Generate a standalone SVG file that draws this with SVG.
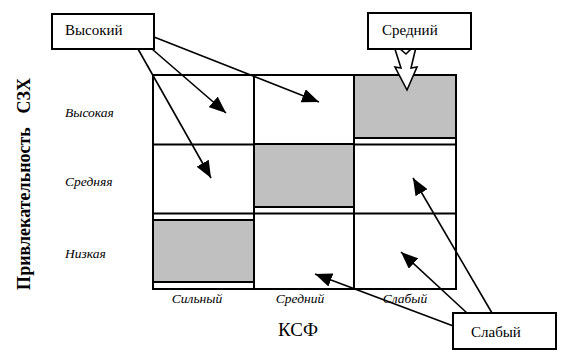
<svg xmlns="http://www.w3.org/2000/svg" width="570" height="363" viewBox="0 0 570 363">
<style>
.ln{stroke:#000;stroke-width:2;fill:none}
.gr{fill:#c0c0c0;stroke:#000;stroke-width:2}
.box{fill:#fff;stroke:#000;stroke-width:2}
.t{font-family:'Liberation Serif','DejaVu Serif',serif;fill:#000}
.it{font-family:'Liberation Serif','DejaVu Serif',serif;font-style:italic;font-size:13.5px;fill:#000}
.con{stroke:#000;stroke-width:1.6;fill:none;marker-end:url(#ah)}
</style>
<defs>
<marker id="ah" markerUnits="userSpaceOnUse" markerWidth="18" markerHeight="14" refX="17" refY="7" orient="auto">
<path d="M0,0 L17,7 L0,14 z" fill="#000"/>
</marker>
</defs>
<rect width="570" height="363" fill="#fff"/>
<g id="grid">
<rect class="ln" x="153" y="75" width="303" height="214"/>
<line class="ln" x1="254" y1="75" x2="254" y2="289"/>
<line class="ln" x1="354" y1="75" x2="354" y2="289"/>
<line class="ln" x1="153" y1="144.5" x2="456" y2="144.5"/>
<line class="ln" x1="153" y1="213.5" x2="456" y2="213.5"/>
<rect class="gr" x="354" y="75" width="102" height="63"/>
<rect class="gr" x="254" y="144" width="100" height="63"/>
<rect class="gr" x="153" y="220" width="101" height="62"/>
</g>
<g id="axis-labels">
<text class="t" font-weight="bold" font-size="18" text-anchor="middle" style="white-space:pre" transform="translate(30,184) rotate(-90)">Привлекательность   СЗХ</text>
<text class="it" x="65" y="117">Высокая</text>
<text class="it" x="65" y="186">Средняя</text>
<text class="it" x="65" y="258">Низкая</text>
<text class="it" x="197" y="303" text-anchor="middle">Сильный</text>
<text class="it" x="300" y="303" text-anchor="middle">Средний</text>
<text class="it" x="405" y="303" text-anchor="middle">Слабый</text>
<text class="t" x="298" y="336" font-size="19" text-anchor="middle">КСФ</text>
</g>
<g id="connectors">
<line class="con" x1="152" y1="49" x2="226" y2="113"/>
<line class="con" x1="138" y1="49" x2="211" y2="178"/>
<line class="con" x1="154" y1="37" x2="319" y2="102"/>
<line class="con" x1="492" y1="313" x2="413" y2="178"/>
<line class="con" x1="467" y1="313" x2="401" y2="252"/>
<line class="con" x1="456" y1="327" x2="315" y2="274"/>
<polygon points="393,43 406,54 417,43 411,68 417,67 407,90 395,67 401,68" fill="#fff" stroke="#000" stroke-width="1.6" stroke-linejoin="miter"/>
</g>
<g id="node-high">
<rect class="box" x="52" y="14" width="102" height="35"/>
<text class="t" x="65" y="35" font-size="15">Высокий</text>
</g>
<g id="node-mid">
<rect class="box" x="368" y="13" width="103" height="36"/>
<text class="t" x="382" y="35" font-size="15">Средний</text>
</g>
<g id="node-low">
<rect class="box" x="453" y="313" width="103" height="36"/>
<text class="t" x="471" y="337" font-size="15">Слабый</text>
</g>
</svg>
